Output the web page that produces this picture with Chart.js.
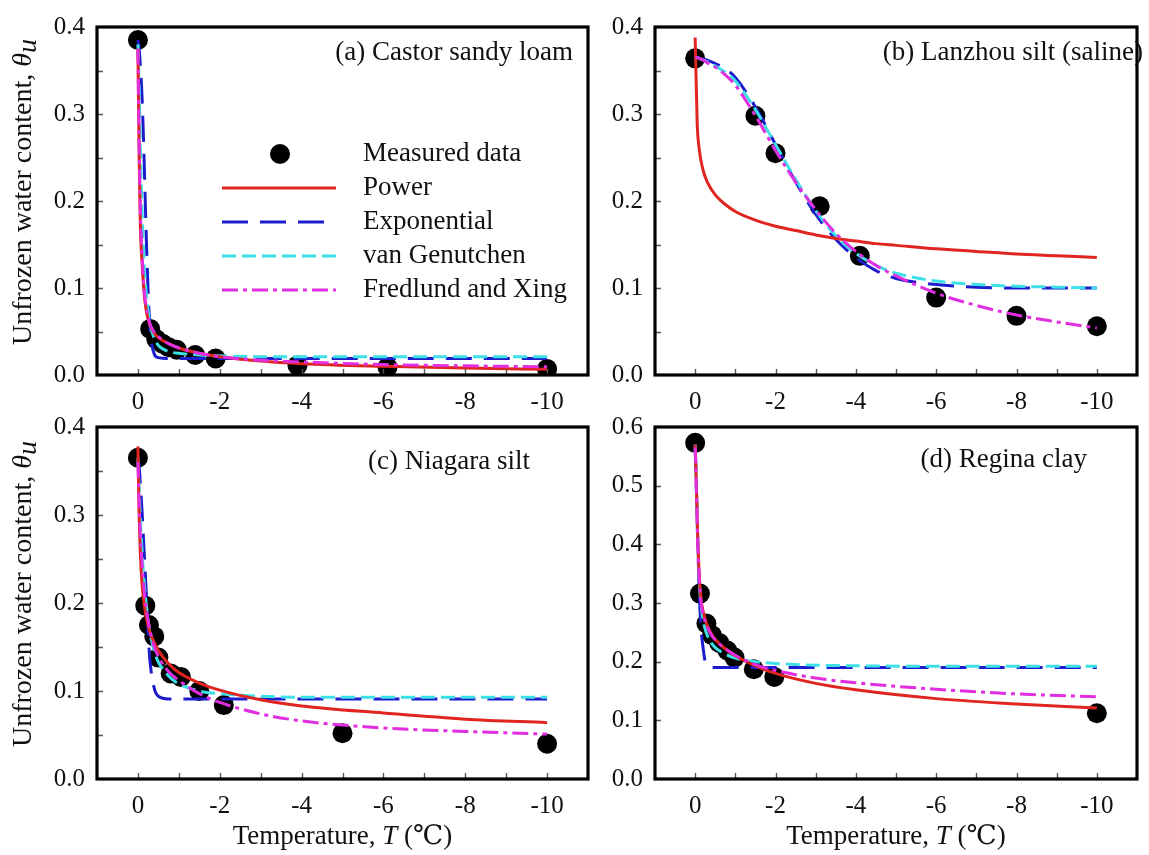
<!DOCTYPE html>
<html>
<head>
<meta charset="utf-8">
<script src="https://cdn.jsdelivr.net/npm/chart.js@4.4.1/dist/chart.umd.min.js"></script>
<style>
  html, body { margin: 0; background: #fff; }
  #wrap { position: relative; width: 1149px; height: 855px; overflow: hidden; }
  #wrap canvas { position: absolute; }
</style>
</head>
<body>
<div id="wrap">
  <canvas id="panel-a"></canvas>
  <canvas id="panel-b"></canvas>
  <canvas id="panel-c"></canvas>
  <canvas id="panel-d"></canvas>
</div>
<script>
const modelNames = ['Power', 'Exponential', 'van Genutchen', 'Fredlund and Xing'];
const panelTitles = ['(a) Castor sandy loam', '(b) Lanzhou silt (saline)', '(c) Niagara silt', '(d) Regina clay'];

// temperatures at which the fitted curves are listed
const fineT = [0, -0.03, -0.06, -0.1, -0.15, -0.2, -0.25, -0.3, -0.4, -0.5, -0.75, -1, -1.5, -2, -3, -4, -6, -8, -10];
const lanzhouFitT = [0, -0.05, -0.1, -0.2, -0.3, -0.5, -0.75, -1, -1.5, -2, -2.5, -3, -3.5, -4, -4.5, -5, -6, -7, -8, -9, -10];

// (a) Castor sandy loam
const castorT = [0, -0.3, -0.45, -0.6, -0.75, -0.95, -1.4, -1.9, -3.9, -6.1, -10];
const castorTheta = [0.385, 0.053, 0.041, 0.036, 0.032, 0.029, 0.023, 0.019, 0.011, 0.009, 0.007];
const castorPower = [0.375, 0.25, 0.17, 0.13, 0.095, 0.075, 0.064, 0.057, 0.048, 0.043, 0.036, 0.031, 0.025, 0.021, 0.016, 0.013, 0.01, 0.008, 0.0065];
const castorExp = [0.385, 0.375, 0.355, 0.32, 0.25, 0.165, 0.095, 0.052, 0.024, 0.02, 0.019, 0.019, 0.019, 0.019, 0.019, 0.019, 0.019, 0.019, 0.019];
const castorVG = [0.38, 0.33, 0.26, 0.19, 0.13, 0.095, 0.073, 0.058, 0.042, 0.034, 0.027, 0.025, 0.023, 0.022, 0.021, 0.021, 0.021, 0.021, 0.021];
const castorFX = [0.375, 0.27, 0.19, 0.14, 0.1, 0.078, 0.066, 0.058, 0.049, 0.044, 0.036, 0.031, 0.025, 0.021, 0.017, 0.015, 0.012, 0.0105, 0.0095];

// (b) Lanzhou silt (saline)
const lanzhouT = [0, -1.5, -2, -3.1, -4.1, -6, -8, -10];
const lanzhouTheta = [0.364, 0.298, 0.255, 0.194, 0.137, 0.089, 0.068, 0.056];
const lanzhouPower = [0.388, 0.29, 0.26, 0.235, 0.222, 0.207, 0.196, 0.188, 0.178, 0.171, 0.166, 0.161, 0.157, 0.154, 0.151, 0.149, 0.145, 0.142, 0.139, 0.137, 0.135];
const lanzhouExp = [0.365, 0.365, 0.364, 0.363, 0.362, 0.358, 0.352, 0.342, 0.308, 0.265, 0.222, 0.185, 0.156, 0.135, 0.12, 0.111, 0.104, 0.101, 0.1, 0.1, 0.1];
const lanzhouVG = [0.365, 0.365, 0.364, 0.362, 0.36, 0.355, 0.348, 0.338, 0.305, 0.265, 0.225, 0.189, 0.16, 0.14, 0.126, 0.117, 0.108, 0.104, 0.102, 0.101, 0.1];
const lanzhouFX = [0.365, 0.365, 0.364, 0.362, 0.359, 0.354, 0.345, 0.333, 0.298, 0.258, 0.222, 0.19, 0.163, 0.142, 0.126, 0.114, 0.094, 0.08, 0.069, 0.061, 0.054];

// (c) Niagara silt
const niagaraT = [0, -0.18, -0.27, -0.4, -0.5, -0.8, -1.05, -1.5, -2.1, -5, -10];
const niagaraTheta = [0.365, 0.197, 0.175, 0.162, 0.138, 0.12, 0.116, 0.1, 0.084, 0.052, 0.04];
const niagaraPower = [0.378, 0.3, 0.255, 0.222, 0.2, 0.185, 0.174, 0.166, 0.155, 0.146, 0.131, 0.121, 0.109, 0.101, 0.09, 0.083, 0.075, 0.068, 0.064];
const niagaraExp = [0.365, 0.355, 0.335, 0.305, 0.26, 0.215, 0.165, 0.132, 0.103, 0.094, 0.091, 0.091, 0.091, 0.091, 0.091, 0.091, 0.091, 0.091, 0.091];
const niagaraVG = [0.365, 0.33, 0.295, 0.26, 0.225, 0.2, 0.18, 0.165, 0.145, 0.133, 0.117, 0.108, 0.1, 0.097, 0.094, 0.093, 0.093, 0.093, 0.093];
const niagaraFX = [0.36, 0.31, 0.275, 0.245, 0.215, 0.195, 0.18, 0.168, 0.15, 0.139, 0.122, 0.112, 0.097, 0.087, 0.074, 0.066, 0.058, 0.054, 0.051];

// (d) Regina clay
const reginaT = [0, -0.12, -0.28, -0.42, -0.6, -0.8, -0.98, -1.46, -1.97, -10];
const reginaTheta = [0.573, 0.316, 0.265, 0.245, 0.232, 0.219, 0.207, 0.187, 0.174, 0.112];
const reginaPower = [0.57, 0.5, 0.42, 0.35, 0.305, 0.285, 0.272, 0.262, 0.248, 0.238, 0.222, 0.21, 0.193, 0.18, 0.163, 0.152, 0.137, 0.128, 0.121];
const reginaExp = [0.57, 0.5, 0.42, 0.32, 0.255, 0.222, 0.2, 0.193, 0.19, 0.19, 0.19, 0.19, 0.19, 0.19, 0.19, 0.19, 0.19, 0.19, 0.19];
const reginaVG = [0.57, 0.49, 0.41, 0.34, 0.295, 0.27, 0.255, 0.245, 0.232, 0.224, 0.213, 0.206, 0.2, 0.197, 0.194, 0.193, 0.192, 0.192, 0.192];
const reginaFX = [0.565, 0.49, 0.41, 0.345, 0.3, 0.28, 0.268, 0.259, 0.246, 0.237, 0.222, 0.211, 0.195, 0.185, 0.172, 0.164, 0.153, 0.145, 0.14];

const SERIF = '"Liberation Serif", "Times New Roman", "DejaVu Serif", serif';
const INK = '#111';

const modelStyles = [
  { color: '#e0241f', dash: [] },
  { color: '#1c1ccc', dash: [26, 12] },
  { color: '#3ee0e8', dash: [14, 6] },
  { color: '#e02ee0', dash: [16, 5, 4, 5] },
];
// magenta on top, measured dots underneath everything
const modelOrder = [2, 4, 3, 1];

const zip = (xs, ys) => xs.map((x, i) => ({ x, y: ys[i] }));

function drawRuns(ctx, runs, x, y) {
  let w = 0;
  runs.forEach(r => { ctx.font = r.font; w += ctx.measureText(r.text).width; });
  let cx = x - w / 2;
  runs.forEach(r => {
    ctx.font = r.font;
    ctx.fillText(r.text, cx, y + (r.dy || 0));
    cx += ctx.measureText(r.text).width;
  });
}

// box, inward tick marks, captions and the legend
const framePlugin = {
  id: 'frame',
  afterDatasetsDraw(chart, args, opts) {
    const { ctx, chartArea: a, scales: { x, y } } = chart;
    ctx.save();
    ctx.strokeStyle = '#555';
    ctx.lineWidth = 1.4;
    ctx.beginPath();
    x.ticks.forEach(t => {
      if (t.value <= -11 || t.value >= 1) return;
      const px = Math.round(x.getPixelForValue(t.value)) + 0.5;
      ctx.moveTo(px, a.bottom);
      ctx.lineTo(px, a.bottom - 6);
    });
    y.ticks.forEach(t => {
      if (t.value <= y.min + 1e-9 || t.value >= y.max - 1e-9) return;
      const py = Math.round(y.getPixelForValue(t.value)) + 0.5;
      ctx.moveTo(a.left, py);
      ctx.lineTo(a.left + 6, py);
    });
    ctx.stroke();

    ctx.strokeStyle = '#000';
    ctx.lineWidth = 3.2;
    ctx.strokeRect(a.left, a.top, a.right - a.left, a.bottom - a.top);

    ctx.fillStyle = INK;
    ctx.textBaseline = 'middle';
    ctx.textAlign = 'right';
    ctx.font = `27px ${SERIF}`;
    ctx.fillText(opts.title, opts.titleRight, opts.titleY);

    ctx.textAlign = 'left';
    if (opts.yTitle) {
      ctx.save();
      ctx.translate(24, (a.top + a.bottom) / 2 - 9);
      ctx.rotate(-Math.PI / 2);
      drawRuns(ctx, [
        { text: 'Unfrozen water content, ', font: `28px ${SERIF}` },
        { text: 'θ', font: `italic 28px ${SERIF}` },
        { text: 'u', font: `italic 28px ${SERIF}`, dy: 5 },
      ], 0, 0);
      ctx.restore();
    }
    if (opts.xTitle) {
      drawRuns(ctx, [
        { text: 'Temperature, ', font: `27px ${SERIF}` },
        { text: 'T', font: `italic 27px ${SERIF}` },
        { text: ' (℃)', font: `27px ${SERIF}` },
      ], (a.left + a.right) / 2, opts.xTitleY);
    }
    if (opts.legend) {
      const rows = ['Measured data', ...modelNames];
      rows.forEach((label, i) => {
        const ly = 154 + i * 34;
        const ds = chart.data.datasets.find(d => d.label === label);
        if (i === 0) {
          ctx.fillStyle = '#000';
          ctx.beginPath();
          ctx.arc(280, ly, ds.pointRadius, 0, Math.PI * 2);
          ctx.fill();
        } else {
          ctx.strokeStyle = ds.borderColor;
          ctx.lineWidth = ds.borderWidth;
          ctx.setLineDash(ds.borderDash);
          ctx.beginPath();
          ctx.moveTo(222, ly);
          ctx.lineTo(336, ly);
          ctx.stroke();
          ctx.setLineDash([]);
        }
        ctx.fillStyle = INK;
        ctx.font = `27px ${SERIF}`;
        ctx.fillText(label, 363, ly);
      });
    }
    ctx.restore();
  }
};

const panels = [
  { id: 'panel-a', left: 0, top: 0, w: 600, h: 420, area: [97, 21, 592, 375], yMax: 0.4, yStep: 0.05,
    fitT: fineT, T: castorT, theta: castorTheta, fits: [castorPower, castorExp, castorVG, castorFX],
    caption: { titleRight: 573, titleY: 53, legend: true, yTitle: true } },
  { id: 'panel-b', left: 560, top: 0, w: 589, h: 420, area: [95, 21, 588, 375], yMax: 0.4, yStep: 0.05,
    fitT: lanzhouFitT, T: lanzhouT, theta: lanzhouTheta, fits: [lanzhouPower, lanzhouExp, lanzhouVG, lanzhouFX],
    caption: { titleRight: 583, titleY: 53 } },
  { id: 'panel-c', left: 0, top: 400, w: 600, h: 455, area: [97, 25, 592, 379], yMax: 0.4, yStep: 0.05,
    fitT: fineT, T: niagaraT, theta: niagaraTheta, fits: [niagaraPower, niagaraExp, niagaraVG, niagaraFX],
    caption: { titleRight: 530, titleY: 62, yTitle: true, xTitle: true, xTitleY: 437 } },
  { id: 'panel-d', left: 560, top: 400, w: 589, h: 455, area: [95, 25, 588, 379], yMax: 0.6, yStep: 0.1,
    fitT: fineT, T: reginaT, theta: reginaTheta, fits: [reginaPower, reginaExp, reginaVG, reginaFX],
    caption: { titleRight: 527, titleY: 60, xTitle: true, xTitleY: 437 } },
];

panels.forEach((p, k) => {
  const el = document.getElementById(p.id);
  el.width = p.w;
  el.height = p.h;
  el.style.left = p.left + 'px';
  el.style.top = p.top + 'px';
  const [aL, aT, aR, aB] = p.area;

  const datasets = p.fits.map((ys, i) => ({
    label: modelNames[i],
    data: zip(p.fitT, ys),
    borderColor: modelStyles[i].color,
    borderWidth: 3,
    borderDash: modelStyles[i].dash,
    pointRadius: 0,
    fill: false,
    cubicInterpolationMode: 'monotone',
    order: modelOrder[i],
  }));
  datasets.push({
    label: 'Measured data',
    data: zip(p.T, p.theta),
    showLine: false,
    pointRadius: 10,
    pointBackgroundColor: '#000',
    pointBorderWidth: 0,
    order: 5,
  });

  const tickFont = { family: SERIF, size: 25 };

  new Chart(el, {
    type: 'line',
    data: { datasets },
    plugins: [framePlugin],
    options: {
      responsive: false,
      animation: false,
      layout: { padding: { top: aT, right: p.w - aR, left: 0, bottom: 0 } },
      plugins: {
        legend: { display: false },
        tooltip: { enabled: false },
        frame: { title: panelTitles[k], ...p.caption },
      },
      scales: {
        x: {
          type: 'linear',
          reverse: true,
          min: -11,
          max: 1,
          afterFit: s => { s.height = p.h - aB; },
          grid: { display: false, drawTicks: false },
          border: { display: false },
          ticks: {
            stepSize: 1,
            autoSkip: false,
            maxRotation: 0,
            padding: 12,
            color: INK,
            font: tickFont,
            callback: v => (v % 2 === 0 && v <= 0 && v >= -10) ? String(v) : '',
          },
        },
        y: {
          min: 0,
          max: p.yMax,
          afterFit: s => { s.width = aL; },
          grid: { display: false, drawTicks: false },
          border: { display: false },
          ticks: {
            stepSize: p.yStep,
            autoSkip: false,
            padding: 12,
            color: INK,
            font: tickFont,
            callback: v => {
              const r = Math.round(v * 100);
              return r % 10 === 0 ? (r / 100).toFixed(1) : '';
            },
          },
        },
      },
    },
  });
});
</script>
</body>
</html>
